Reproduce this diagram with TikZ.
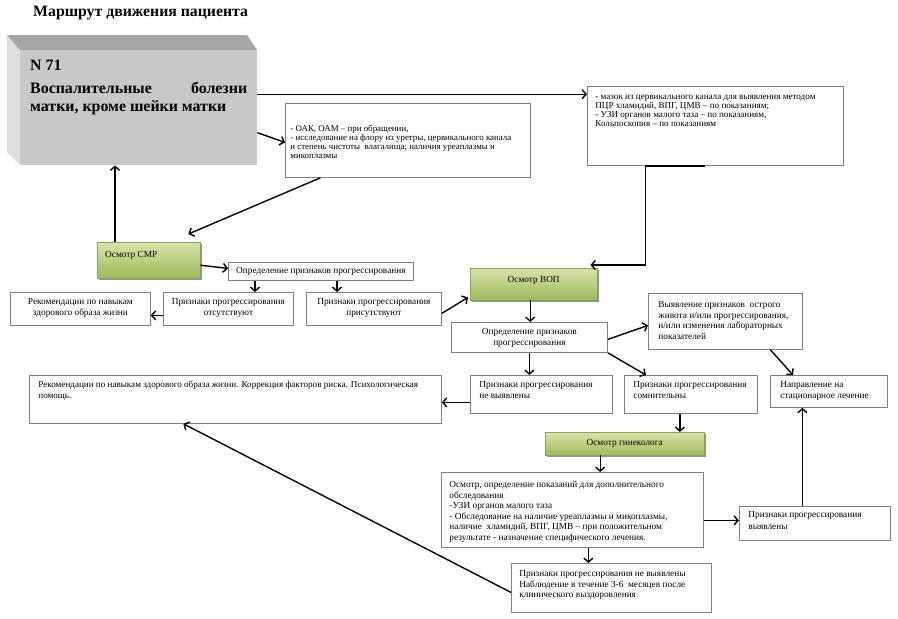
\documentclass[tikz,border=0pt]{standalone}
\usepackage{fontspec}
\setmainfont{Liberation Serif}
\usetikzlibrary{arrows.meta,shadows,calc}
\definecolor{bordergray}{RGB}{128,128,128}
\definecolor{gtop}{RGB}{215,228,170}
\definecolor{gbot}{RGB}{155,187,89}
\definecolor{gborder}{RGB}{140,160,100}
\definecolor{frontgray}{RGB}{200,200,200}
\definecolor{topgray}{RGB}{166,166,166}
\definecolor{leftgray}{RGB}{222,222,222}
\newcommand{\tb}[4]{\parbox[c][#2pt][t]{#1pt}{\vspace*{#3pt}#4}}
\newcommand{\fs}{\fontsize{9.3}{10.5}\selectfont}
\newcommand{\fsr}{\fontsize{9.1}{10.5}\selectfont}
\newcommand{\fsa}{\fontsize{8.9}{8.6}\selectfont}
\newcommand{\fsb}{\fontsize{9.1}{9}\selectfont}
\begin{document}
\begin{tikzpicture}[x=1pt,y=-1pt,
 box/.style={draw=bordergray, line width=0.8pt, fill=white, inner ysep=0pt, inner xsep=0pt, anchor=north west, font=\fs},
 gbox/.style={draw=gborder, line width=0.4pt, top color=gtop, bottom color=gbot, drop shadow={shadow xshift=1.5pt,shadow yshift=-1.5pt,opacity=0.6,fill=black!70}, inner sep=0pt, anchor=north west, font=\fs},
 arr/.style={draw=black, line width=1.4pt, -{Straight Barb[length=4pt,width=9pt]}}]
\useasboundingbox[fill=white] (0,0) rectangle (898,619);

\node[anchor=base west, inner sep=0pt, font=\bfseries\fontsize{15.8}{16}\selectfont] (title) at (33,16) {Маршрут движения пациента};

% 3D main box
\fill[leftgray] (7,35) -- (20,50) -- (20,165) -- (7,152) -- cycle;
\fill[topgray] (7,35) -- (247,35) -- (257,50) -- (20,50) -- cycle;
\node[anchor=north west, fill=frontgray, inner xsep=10pt, inner ysep=0pt, font=\bfseries\fontsize{15.9}{18}\selectfont] (main) at (20,50)
 {\tb{217}{115}{7.4}{\strut N 71\\[5pt]Воспалительные\hfill болезни\\матки, кроме шейки матки}};

\node[box, inner xsep=5pt, font=\fsa] (A) at (285,103) {\tb{235}{74}{21.3}{\raggedright\strut - ОАК, ОАМ – при обращении,\\- исследование на флору из уретры, цервикального канала\\и степень чистоты\ \ влагалища; наличия уреаплазмы и\\микоплазмы}};
\node[box, inner xsep=8pt, font=\fsb] (B) at (587,86) {\tb{240}{79}{7}{\raggedright\strut - мазок из цервикального канала для выявления методом\\ПЦР хламидий, ВПГ, ЦМВ – по показаниям;\\- УЗИ органов малого таза – по показаниям,\\Кольпоскопия – по показаниям}};

\node[gbox, inner xsep=8pt] (SMR) at (97,242) {\tb{87}{36}{8.15}{\strut Осмотр СМР}};
\node[gbox] (VOP) at (470,268) {\tb{127}{32}{7.15}{\centering\strut Осмотр ВОП}};
\node[gbox] (Gin) at (545,432) {\tb{159}{23}{6.15}{\centering\strut Осмотр гинеколога}};

\node[box] (O1) at (228,262) {\tb{185}{18}{4.15}{\centering\strut Определение признаков прогрессирования}};
\node[box] (Rek1) at (10,292) {\tb{140}{33}{5.15}{\centering\strut Рекомендации по навыкам\\здорового образа жизни}};
\node[box] (Ots) at (163,292) {\tb{130}{33}{5.15}{\centering\strut Признаки прогрессирования\\отсутствуют}};
\node[box] (Pris) at (306,292) {\tb{135}{33}{5.15}{\centering\strut Признаки прогрессирования\\присутствуют}};
\node[box] (O2) at (451,322) {\tb{156}{30}{5.15}{\centering\strut Определение признаков\\прогрессирования}};
\node[box, inner xsep=10pt] (Vy) at (648,293) {\tb{134}{56}{7.15}{\raggedright\strut Выявление признаков\ \ острого\\живота и/или прогрессирования,\\и/или изменения лабораторных\\показателей}};
\node[box, inner xsep=9pt] (Nev) at (470,375) {\tb{124}{38}{5.15}{\raggedright\strut Признаки прогрессирования\\не выявлены}};
\node[box, inner xsep=9pt] (Som) at (624,375) {\tb{115}{38}{5.15}{\raggedright\strut Признаки прогрессирования\\сомнительны}};
\node[box, inner xsep=10pt] (Napr) at (770,375) {\tb{97}{32}{5.15}{\raggedright\strut Направление на\\стационарное лечение}};
\node[box, inner xsep=9pt, font=\fsr] (Rek2) at (29,375) {\tb{394}{48}{5.15}{\raggedright\strut Рекомендации по навыкам здорового образа жизни. Коррекция факторов риска. Психологическая\\помощь.}};
\node[box, inner xsep=8pt] (Osm) at (441,472) {\tb{246}{75}{8.15}{\raggedright\strut Осмотр, определение показаний для дополнительного\\обследования\\-УЗИ органов малого таза\\- Обследование на наличие уреаплазмы и микоплазмы,\\наличие\ \ хламидий, ВПГ, ЦМВ – при положительном\\результате - назначение специфического лечения.}};
\node[box, inner xsep=9pt] (Vyy2) at (739,506) {\tb{133}{34}{4.15}{\raggedright\strut Признаки прогрессирования\\[1.5pt]выявлены}};
\node[box, inner xsep=8pt] (Bot) at (511,563) {\tb{184}{49}{6.15}{\raggedright\strut Признаки прогрессирования не выявлены\\Наблюдение в течение 3-6\ \ месяцев после\\клинического выздоровления}};

% connectors
\coordinate (p1) at ([yshift=13.5pt]main.east);
\draw[arr] (p1) -- (p1 -| B.west);
\draw[arr] ([yshift=-25pt]main.east) -- ([yshift=-2pt]A.west);
\coordinate (b1) at ([xshift=-10pt]B.south);
\coordinate (b2) at ([xshift=-70pt]B.south);
\coordinate (v1) at ([xshift=-7pt,yshift=3pt]VOP.north east);
\draw[arr] (b1) -- (b2) -- (b2 |- v1) -- (v1);
\draw[arr] ([xshift=-87.5pt]A.south) -- ([xshift=-12pt,yshift=8pt]SMR.north east);
\coordinate (s1) at ([xshift=18pt]SMR.north west);
\draw[arr] (s1) -- (s1 |- main.south);
\draw[arr] ([yshift=-5pt]SMR.east) -- ([yshift=3pt]O1.west);
\coordinate (o1a) at ([xshift=27pt]O1.south west);
\draw[arr] (o1a) -- (o1a |- Ots.north);
\coordinate (o1b) at ([xshift=109pt]O1.south west);
\draw[arr] (o1b) -- (o1b |- Pris.north);
\coordinate (t1) at ([yshift=-6.5pt]Ots.west);
\draw[arr] (t1) -- (t1 -| Rek1.east);
\draw[arr] ([yshift=-4.5pt]Pris.east) -- ([xshift=-2pt,yshift=3pt]VOP.south west);
\coordinate (v2) at ([xshift=-3.5pt]VOP.south);
\draw[arr] (v2) -- (v2 |- O2.north);
\draw[arr] ([yshift=-2pt]O2.east) -- ([yshift=-4pt]Vy.west);
\draw[arr] ([xshift=45pt]Vy.south) -- ([xshift=23pt]Napr.north west);
\draw[arr] (O2.south) -- (O2.south |- Nev.north);
\draw[arr] (O2.south east) -- ([xshift=22pt]Som.north west);
\coordinate (n1) at ([yshift=-8pt]Nev.west);
\draw[arr] (n1) -- (n1 -| Rek2.east);
\coordinate (g1) at ([xshift=-11pt]Som.south);
\draw[arr] (g1) -- (g1 |- Gin.north);
\coordinate (g2) at ([xshift=-24.5pt]Gin.south);
\draw[arr] (g2) -- (g2 |- Osm.north);
\coordinate (m1) at ([yshift=-10.5pt]Osm.east);
\draw[arr] (m1) -- (m1 -| Vyy2.west);
\coordinate (y1) at ([xshift=-12.5pt]Vyy2.north);
\draw[arr] (y1) -- (y1 |- Napr.south);
\coordinate (m2) at ([xshift=16pt]Osm.south);
\draw[arr] (m2) -- (m2 |- Bot.north);
\draw[arr] ([yshift=-4.5pt]Bot.west) -- ([xshift=-52pt]Rek2.south);
\end{tikzpicture}
\end{document}
